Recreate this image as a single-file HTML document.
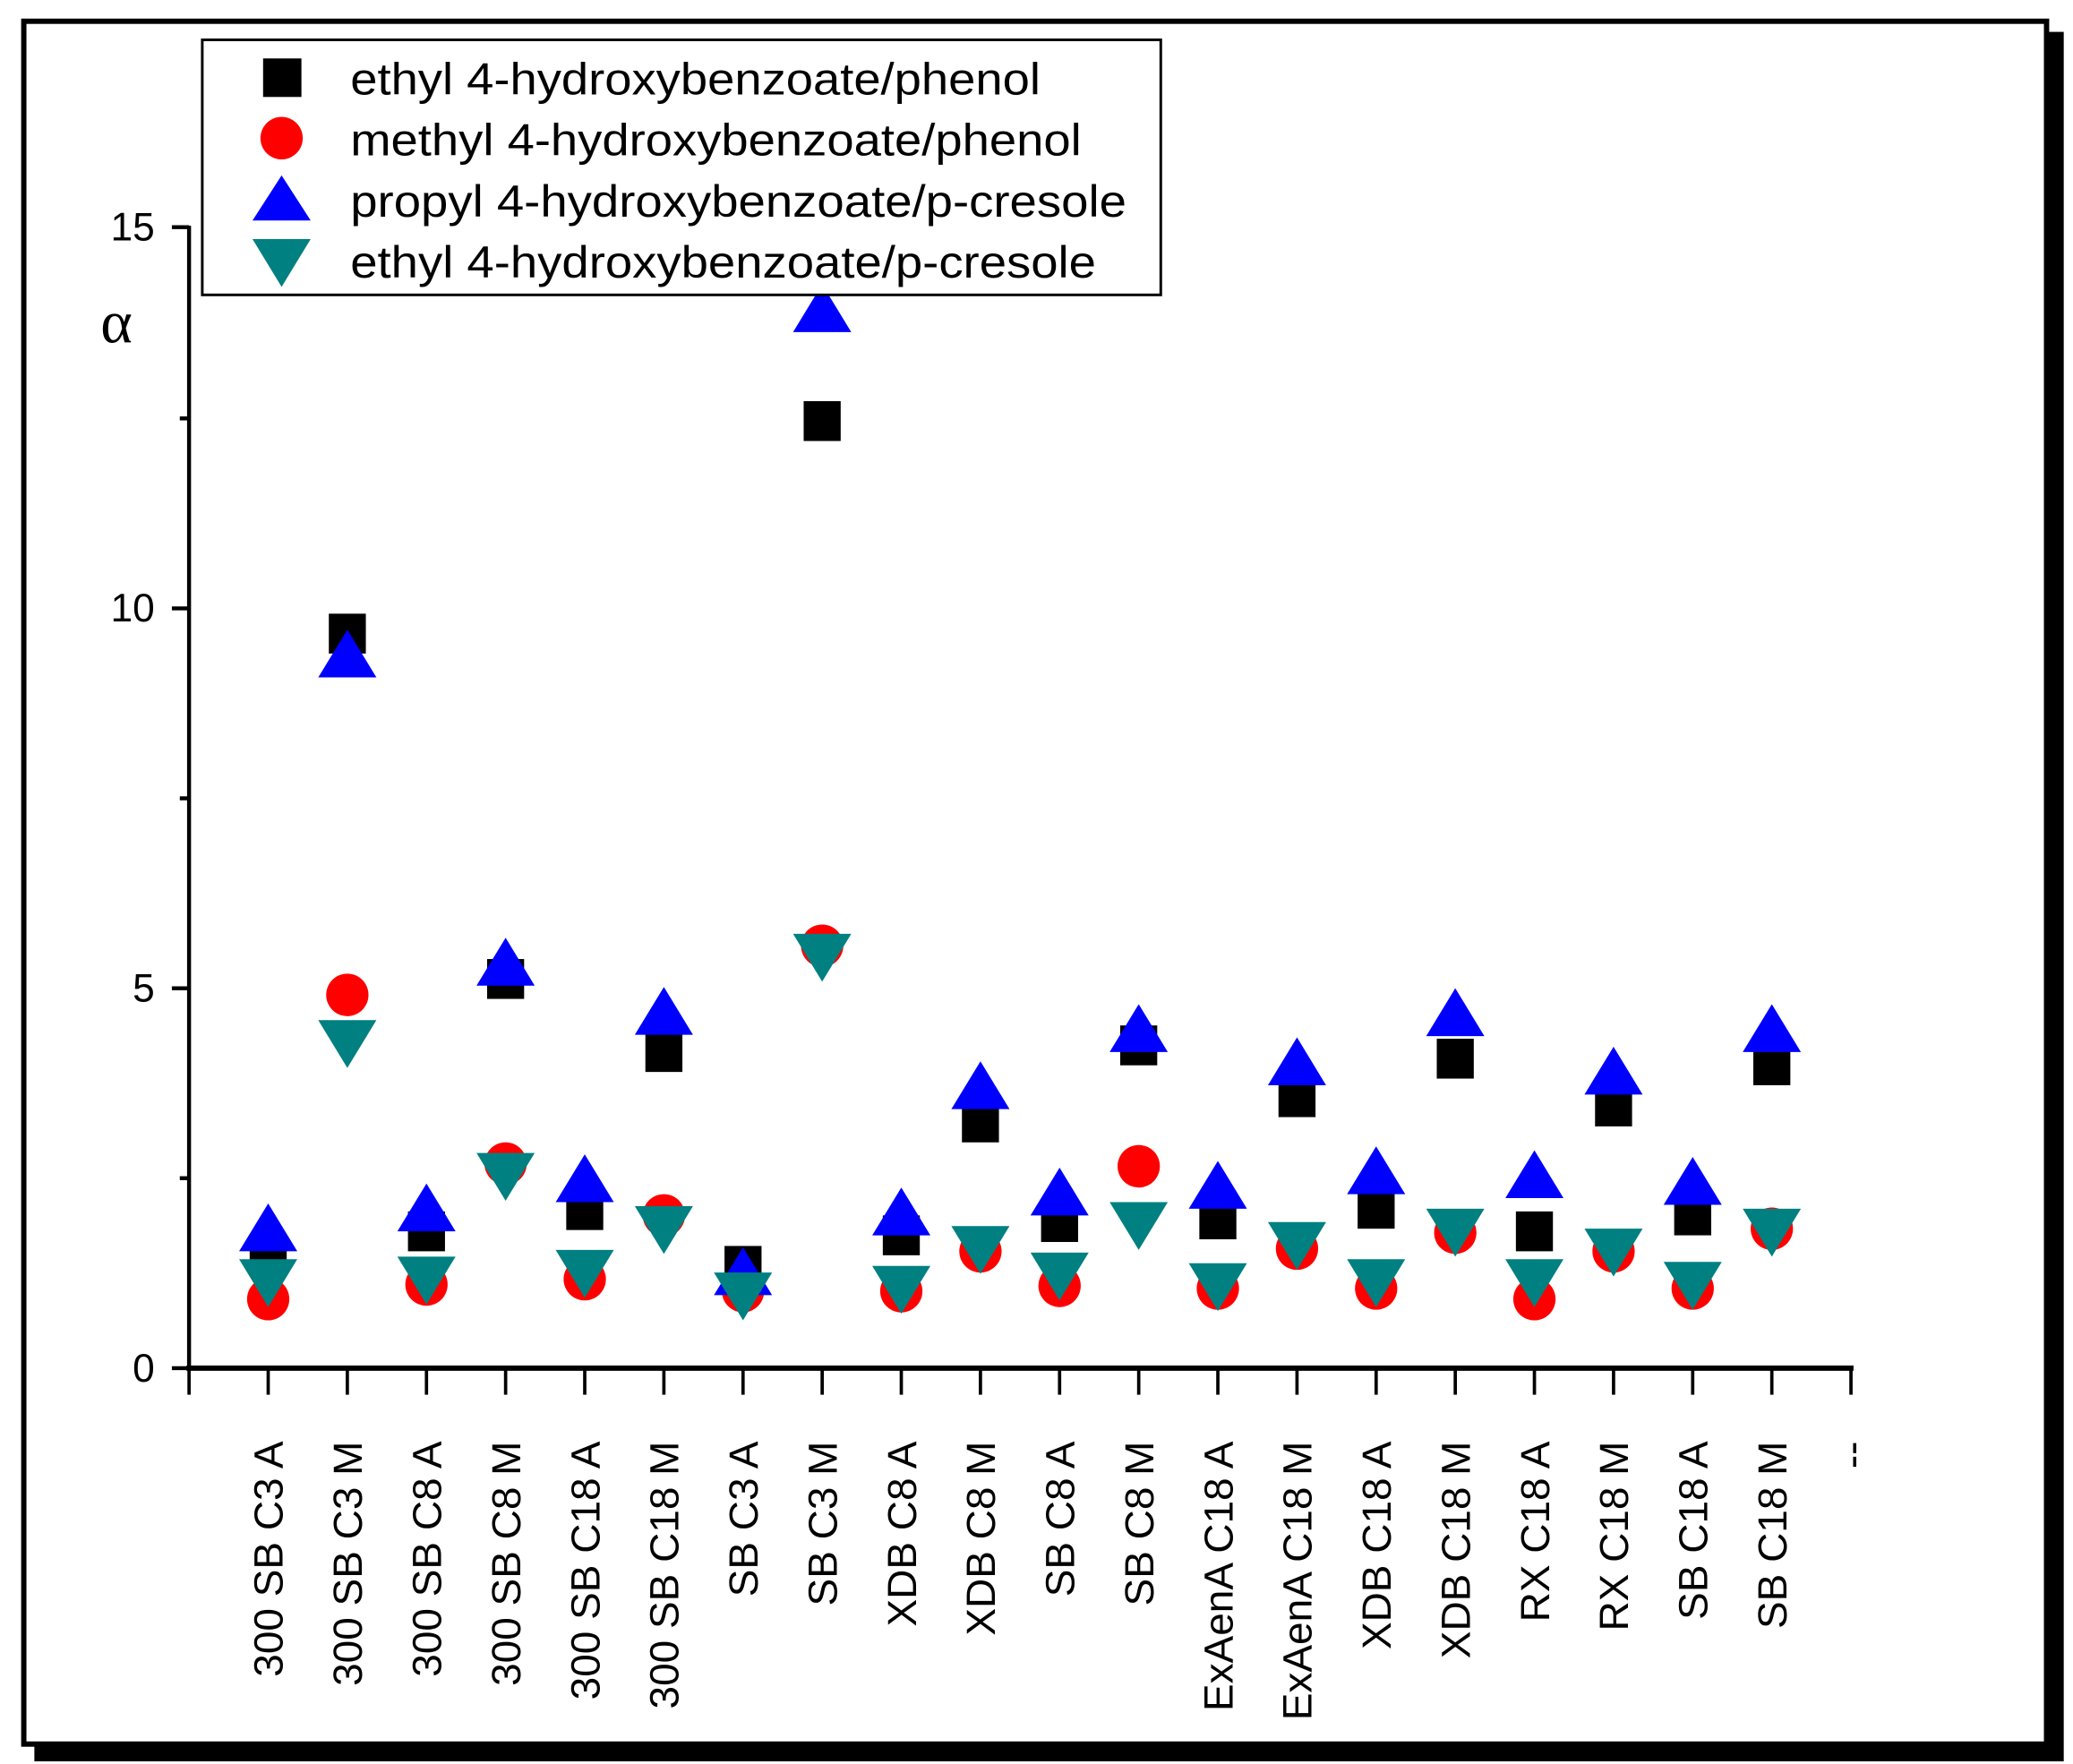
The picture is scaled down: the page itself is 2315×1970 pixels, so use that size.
<!DOCTYPE html>
<html><head><style>html,body{margin:0;padding:0;background:#fff}svg{display:block}</style></head>
<body>
<svg width="2315" height="1970" viewBox="0 0 1568 1328" preserveAspectRatio="none" xmlns="http://www.w3.org/2000/svg" font-family="Liberation Sans, Arial, sans-serif">
<rect x="0" y="0" width="1568" height="1328" fill="#fff"/>
<rect x="26" y="24" width="1535" height="1302" fill="#000"/>
<rect x="18" y="16" width="1530" height="1297" fill="#fff" stroke="#000" stroke-width="4"/>
<line x1="143" y1="170" x2="143" y2="1032" stroke="#000" stroke-width="3"/>
<line x1="141" y1="1030" x2="1402" y2="1030" stroke="#000" stroke-width="4"/>
<g stroke="#000" stroke-width="3">
<line x1="130" y1="171" x2="143" y2="171"/><line x1="136" y1="315" x2="143" y2="315"/>
<line x1="130" y1="458" x2="143" y2="458"/><line x1="136" y1="601" x2="143" y2="601"/>
<line x1="130" y1="744" x2="143" y2="744"/><line x1="136" y1="887" x2="143" y2="887"/>
<line x1="130" y1="1030" x2="143" y2="1030"/>
</g>
<g id="xt" stroke="#000" stroke-width="2.5"></g>
<g font-size="30" text-anchor="end">
<text x="117" y="181">15</text><text x="117" y="468">10</text><text x="117" y="754">5</text><text x="117" y="1040">0</text>
</g>
<text x="76" y="258" font-size="46" font-family="Liberation Serif, serif">α</text>
<g id="pts"></g>
<g id="lbl" font-size="31"></g>
<rect x="153" y="30" width="725" height="192" fill="#fff" stroke="#000" stroke-width="2"/>
<rect x="199" y="44" width="29" height="29" fill="#000"/>
<circle cx="213" cy="104" r="16" fill="#f00"/>
<polygon points="191,166 235,166 213,132" fill="#00f"/>
<polygon points="191,180 235,180 213,216" fill="#008080"/>
<g font-size="34">
<text x="265" y="71" textLength="522" lengthAdjust="spacingAndGlyphs">ethyl 4-hydroxybenzoate/phenol</text>
<text x="265" y="117" textLength="553" lengthAdjust="spacingAndGlyphs">methyl 4-hydroxybenzoate/phenol</text>
<text x="265" y="163" textLength="587" lengthAdjust="spacingAndGlyphs">propyl 4-hydroxybenzoate/p-cresole</text>
<text x="265" y="209" textLength="564" lengthAdjust="spacingAndGlyphs">ethyl 4-hydroxybenzoate/p-cresole</text>
</g>
</svg>
<script>
var NS="http://www.w3.org/2000/svg";
function el(p,t,a,txt){var e=document.createElementNS(NS,t);for(var k in a)e.setAttribute(k,a[k]);if(txt)e.textContent=txt;document.getElementById(p).appendChild(e);}
for(var k=0;k<=21;k++){var x=143+59.86*k;el("xt","line",{x1:x,y1:1030,x2:x,y2:1050});}
var labels=["300 SB C3 A","300 SB C3 M","300 SB C8 A","300 SB C8 M","300 SB C18 A","300 SB C18 M","SB C3 A","SB C3 M","XDB C8 A","XDB C8 M","SB C8 A","SB C8 M","ExAenA C18 A","ExAenA C18 M","XDB C18 A","XDB C18 M","RX C18 A","RX C18 M","SB C18 A","SB C18 M","--"];
var d=[[945,978,925,965],[477,749,493,785],[927,967,910,963],[737,876,725,885],[911,963,888,958],[792,915,762,925],[953,972,958,975],[317,712,233,720],[930,972,913,970],[845,942,818,940],[920,968,898,960],[787,878,775,922],[918,970,893,968],[826,940,800,937],[910,970,882,965],[797,928,763,927],[927,978,885,965],[833,942,807,942],[915,970,890,967],[802,925,775,927]];
for(var i=0;i<21;i++){var x=143+59.86*(i+1);
 el("lbl","text",{x:0,y:0,"text-anchor":"end",transform:"translate("+(x+11)+",1085) rotate(-90)"},labels[i]);
 if(i<20){var v=d[i];
  el("pts","rect",{x:x-14,y:v[0]-15,width:28,height:30,fill:"#000"});
  el("pts","circle",{cx:x,cy:v[1],r:16,fill:"#f00"});
  el("pts","polygon",{points:(x-22)+","+(v[2]+17)+" "+(x+22)+","+(v[2]+17)+" "+x+","+(v[2]-19),fill:"#00f"});
  el("pts","polygon",{points:(x-22)+","+(v[3]-17)+" "+(x+22)+","+(v[3]-17)+" "+x+","+(v[3]+19),fill:"#008080"});
 }}
</script>
</body></html>
